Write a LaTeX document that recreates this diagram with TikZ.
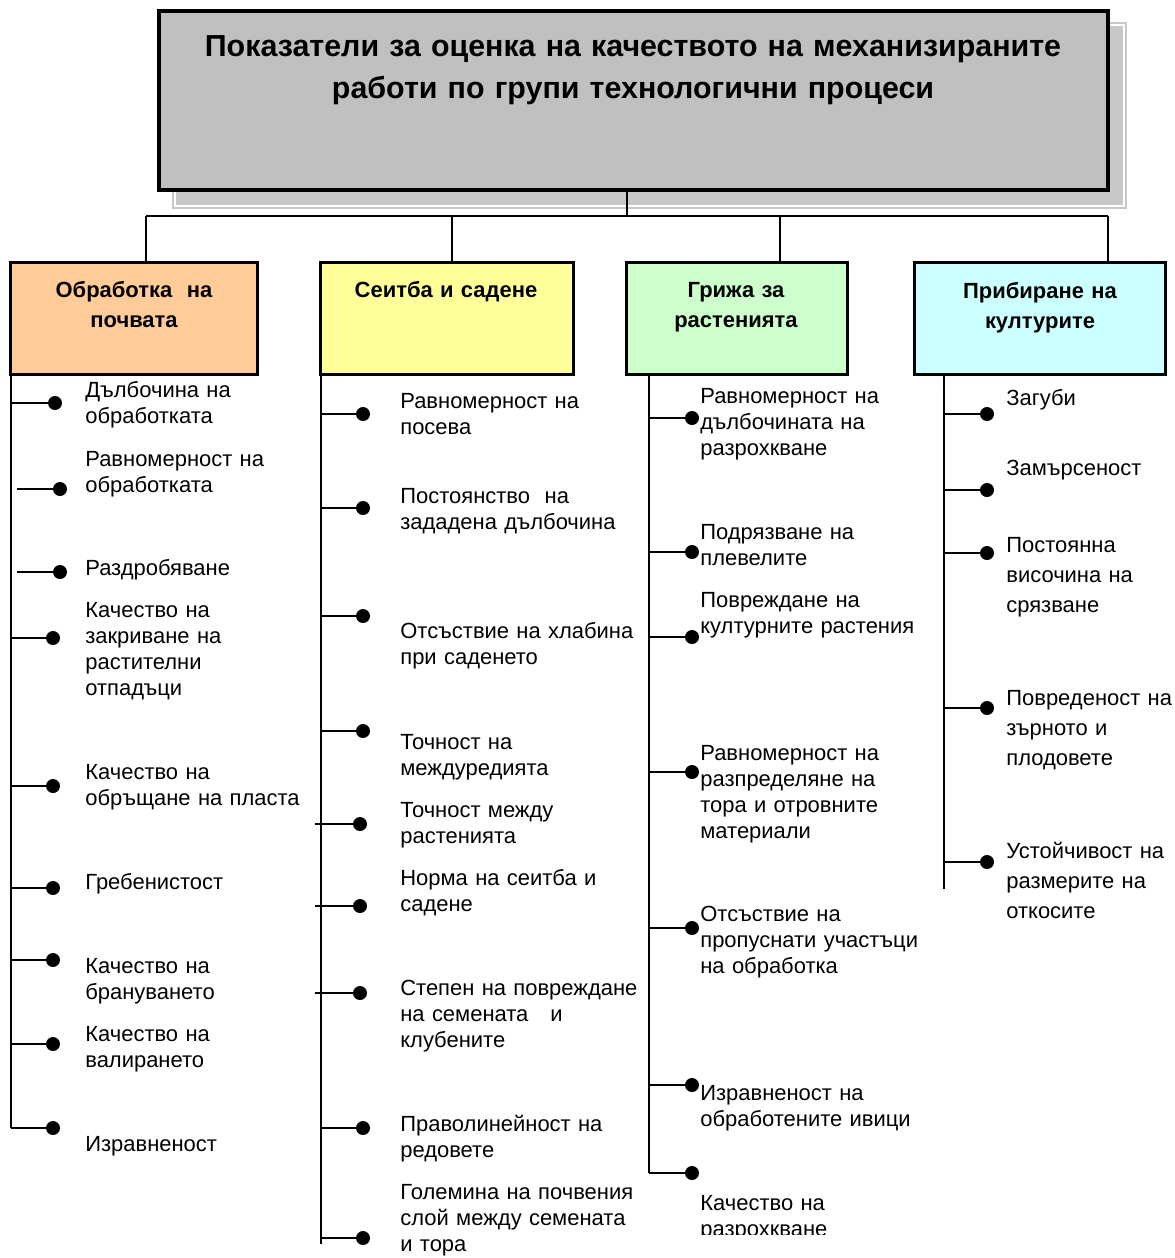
\documentclass[tikz,border=0pt]{standalone}
\usepackage{fontspec}
\setmainfont{Liberation Sans}
\definecolor{titlegray}{HTML}{C0C0C0}
\definecolor{shadowgray}{HTML}{C8C8C8}
\definecolor{soilfill}{HTML}{FFCC99}
\definecolor{sowfill}{HTML}{FFFF99}
\definecolor{carefill}{HTML}{CCFFCC}
\definecolor{harvestfill}{HTML}{CCFFFF}
\tikzset{
  titlebox/.style={draw=black,line width=2.3pt,fill=titlegray,minimum width=18.98cm,minimum height=3.58cm,inner sep=0pt},
  groupbox/.style={draw=black,line width=1.7pt,minimum height=2.25cm,inner sep=0pt},
  grouptext/.style={anchor=base,align=center,text width=4.6cm,inner sep=0pt,font=\bfseries\fontsize{12.5}{17.6}\selectfont},
  conn/.style={line width=0.8pt},
  branch/.style={line width=1.1pt},
  dot/.style={circle,fill=black,inner sep=0pt,minimum size=0.28cm},
  item/.style={anchor=base west,align=left,text width=5.4cm,inner sep=0pt,font=\fontsize{12.5}{14.8}\selectfont},
  wideitem/.style={item,font=\fontsize{12.5}{17.1}\selectfont}
}
\begin{document}
\begin{tikzpicture}[x=0.02cm,y=-0.02cm]
  \useasboundingbox (0,0) rectangle (1174,1258);

  % Title with its shadow
  \fill[shadowgray] (172,22) rectangle (1127,209);
  \draw[white,line width=0.6pt] (175,25) rectangle (1124,206);
  \node[titlebox] (title) at (633.5,100.5) {};
  \node[anchor=base,align=center,text width=18.5cm,inner sep=0pt,
        font=\bfseries\fontsize{17.3}{24.4}\selectfont] (titletext) at (633,56)
    {Показатели за оценка на качеството на механизираните\\работи по групи технологични процеси};

  % Group boxes
  \node[groupbox,fill=soilfill,minimum width=4.96cm] (h1) at (134,318.5) {};
  \node[groupbox,fill=sowfill,minimum width=5.08cm] (h2) at (447,318.5) {};
  \node[groupbox,fill=carefill,minimum width=4.44cm] (h3) at (737,318.5) {};
  \node[groupbox,fill=harvestfill,minimum width=5.04cm] (h4) at (1040,318.5) {};
  \node[grouptext] (h1t) at (134,297) {Обработка~~на\\почвата};
  \node[grouptext] (h2t) at (446,297) {Сеитба и садене};
  \node[grouptext] (h3t) at (736,297) {Грижа за\\растенията};
  \node[grouptext] (h4t) at (1040,298) {Прибиране на\\културите};

  % Bus from the title to the groups
  \coordinate (bus) at (627,216);
  \coordinate (j1) at (146,216);
  \coordinate (j2) at (452,216);
  \coordinate (j3) at (780,216);
  \coordinate (j4) at (1108,216);
  \draw[conn] (title.south -| bus) -- (bus);
  \draw[conn] (j1) -- (j4);
  \draw[conn] (j1) -- (j1 |- h1.north);
  \draw[conn] (j2) -- (j2 |- h2.north);
  \draw[conn] (j3) -- (j3 |- h3.north);
  \draw[conn] (j4) -- (j4 |- h4.north);

  % Trunks
  \coordinate (e1) at (11,1128);
  \coordinate (e2) at (321,1244);
  \coordinate (e3) at (649,1173);
  \coordinate (e4) at (944,889);
  \draw[conn] (e1 |- h1.south) -- (e1);
  \draw[conn] (e2 |- h2.south) -- (e2);
  \draw[conn] (e3 |- h3.south) -- (e3);
  \draw[conn] (e4 |- h4.south) -- (e4);

  % Soil tillage
  \foreach \i/\sx/\dx/\dy/\ty/\txt in {
      1/11/55/403/391/{Дълбочина на\\обработката},
      2/17/60/489/460/{Равномерност на\\обработката},
      3/17/60/572/569/{Раздробяване},
      4/11/53/638/611/{Качество на\\закриване на\\растителни\\отпадъци},
      5/11/53/786/773/{Качество на\\обръщане на пласта},
      6/11/53/888/883/{Гребенистост},
      7/11/53/960/967/{Качество на\\брануването},
      8/11/53/1044/1035/{Качество на\\валирането},
      9/11/53/1128/1145/{Изравненост}} {
    \coordinate (s1-\i) at (\sx,\dy);
    \node[dot] (d1-\i) at (\dx,\dy) {};
    \draw[branch] (s1-\i) -- (d1-\i);
    \node[item] (t1-\i) at (85,\ty+6) {\txt};
  }

  % Sowing and planting
  \foreach \i/\sx/\dx/\dy/\ty/\txt in {
      1/321/363/414/402/{Равномерност на\\посева},
      2/321/363/508/497/{Постоянство~~на\\зададена дълбочина},
      3/321/363/616/632/{Отсъствие на хлабина\\при саденето},
      4/321/363/731/743/{Точност на\\междуредията},
      5/315/360/824/811/{Точност между\\растенията},
      6/315/360/906/879/{Норма на сеитба и\\садене},
      7/315/360/993/989/{Степен на повреждане\\на семената~~~и\\клубените},
      8/321/363/1128/1125/{Праволинейност на\\редовете},
      9/321/363/1238/1193/{Големина на почвения\\слой между семената\\и тора}} {
    \coordinate (s2-\i) at (\sx,\dy);
    \node[dot] (d2-\i) at (\dx,\dy) {};
    \draw[branch] (s2-\i) -- (d2-\i);
    \node[item] (t2-\i) at (400,\ty+6) {\txt};
  }

  % Plant care
  \foreach \i/\dy/\ty/\txt in {
      1/418/397/{Равномерност на\\дълбочината на\\разрохкване},
      2/552/533/{Подрязване на\\плевелите},
      3/637/601/{Повреждане на\\културните растения},
      4/772/754/{Равномерност на\\разпределяне на\\тора и отровните\\материали},
      5/928/915/{Отсъствие на\\пропуснати участъци\\на обработка},
      6/1085/1094/{Изравненост на\\обработените ивици}} {
    \coordinate (s3-\i) at (649,\dy);
    \node[dot] (d3-\i) at (692,\dy) {};
    \draw[branch] (s3-\i) -- (d3-\i);
    \node[item] (t3-\i) at (700,\ty+6) {\txt};
  }
  \coordinate (s3-7) at (649,1173);
  \node[dot] (d3-7) at (692,1173) {};
  \draw[branch] (s3-7) -- (d3-7);
  \begin{scope}
    \clip (690,1180) rectangle (960,1234);
    \node[item] (t3-7) at (700,1210) {Качество на\\разрохкване};
  \end{scope}

  % Harvest
  \foreach \i/\dy/\ty/\txt in {
      1/414/399/{Загуби},
      2/490/469/{Замърсеност},
      3/553/546/{Постоянна\\височина на\\срязване},
      4/708/699/{Повреденост на\\зърното и\\плодовете},
      5/862/852/{Устойчивост на\\размерите на\\откосите}} {
    \coordinate (s4-\i) at (944,\dy);
    \node[dot] (d4-\i) at (987,\dy) {};
    \draw[branch] (s4-\i) -- (d4-\i);
    \node[wideitem] (t4-\i) at (1006,\ty+6) {\txt};
  }
\end{tikzpicture}
\end{document}
